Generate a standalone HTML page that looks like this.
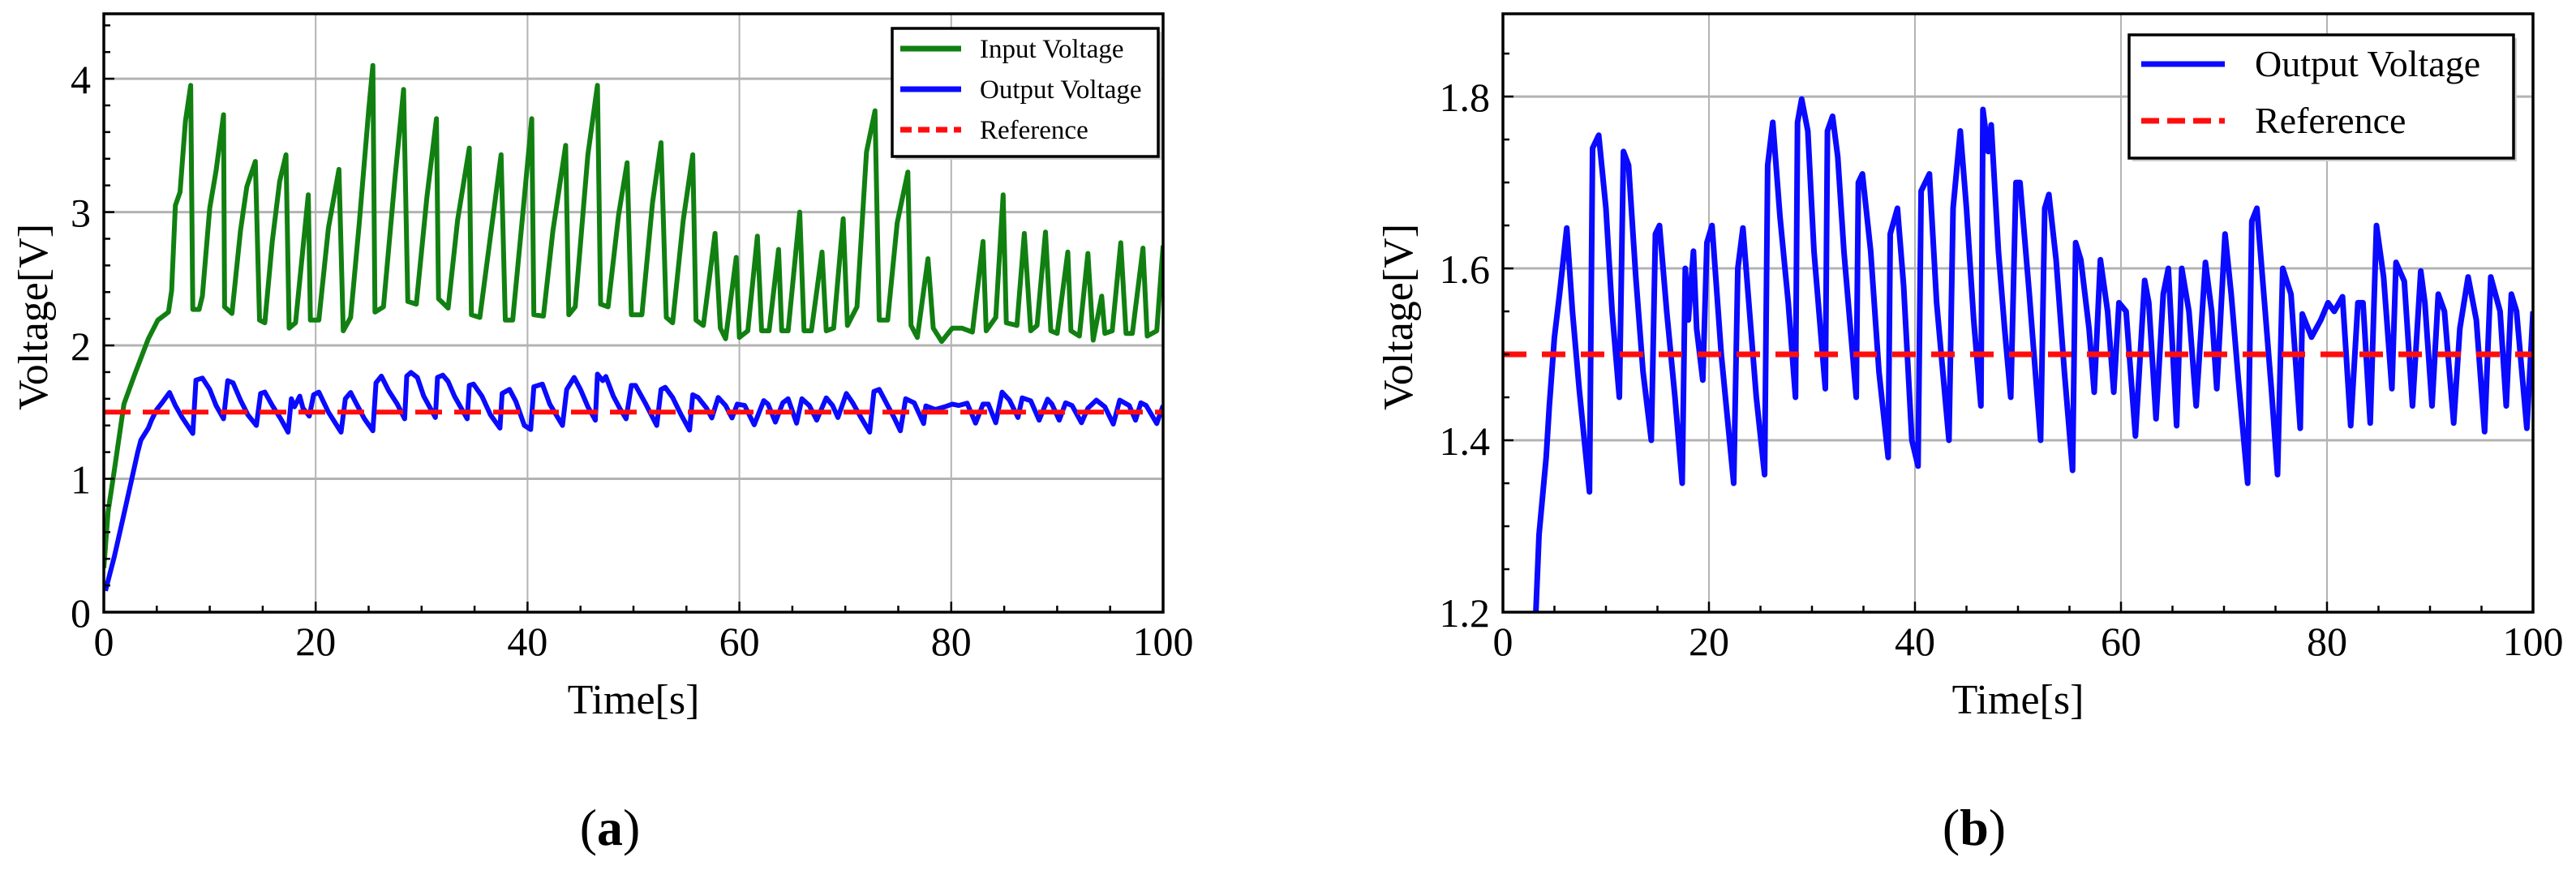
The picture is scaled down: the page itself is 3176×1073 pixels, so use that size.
<!DOCTYPE html>
<html><head><meta charset="utf-8">
<style>
html,body{margin:0;padding:0;background:#fff;width:3176px;height:1073px;overflow:hidden;}
svg{display:block;}
text{font-family:"Liberation Serif",serif;fill:#000;}
</style></head>
<body>
<svg id="fig" width="3176" height="1073" viewBox="0 0 3176 1073" xmlns="http://www.w3.org/2000/svg">
  <defs>
    <clipPath id="clipA"><rect x="128" y="17" width="1306" height="738"/></clipPath>
    <clipPath id="clipB"><rect x="1853" y="17" width="1270" height="738"/></clipPath>
  </defs>
  <g id="panelA"></g>
  <g id="panelB"></g>
</svg>
<script>
// ---- data ----
const outT = [0.15,1,1.8,2.5,3.2,3.5,4.2,4.5,5.0,5.5,6.2,6.75,7.4,8.4,8.7,9.3,10.0,10.6,11.3,11.7,12.2,12.9,13.6,14.4,14.8,15.2,15.9,16.7,17.4,17.7,18.0,18.5,18.8,19.4,19.8,20.3,21.2,22.4,22.8,23.3,23.8,24.6,25.4,25.7,26.2,26.9,27.7,28.4,28.6,29.0,29.6,30.2,31.3,31.5,32.0,32.5,33.1,34.3,34.5,34.9,35.7,36.5,37.4,37.6,38.3,38.9,39.7,40.3,40.6,41.4,42.1,43.3,43.7,44.4,45.0,45.7,46.4,46.6,47.1,47.4,48.1,48.7,49.3,49.8,50.2,51.1,52.2,52.6,53.0,53.7,54.5,55.3,55.6,56.1,56.9,57.4,58.0,58.7,59.3,59.8,60.5,61.4,62.3,62.7,63.4,64.1,64.6,65.4,65.9,66.6,67.3,68.2,68.8,69.3,70.1,70.7,71.4,72.3,72.7,73.2,74.0,74.6,75.2,75.7,76.5,77.4,77.6,78.5,79.4,80.1,80.7,81.5,82.3,83.0,83.5,84.2,84.8,85.5,86.3,86.7,87.5,88.3,89.1,89.5,90.2,90.8,91.4,92.3,92.9,93.7,94.5,95.3,95.9,96.8,97.4,97.9,98.4,99.4,100];
const outV = [0.16,0.42,0.7,0.95,1.2,1.29,1.38,1.44,1.52,1.57,1.647,1.55,1.46,1.34,1.74,1.755,1.67,1.55,1.45,1.736,1.72,1.59,1.48,1.40,1.64,1.65,1.55,1.45,1.35,1.60,1.54,1.62,1.53,1.47,1.63,1.65,1.50,1.35,1.60,1.647,1.57,1.45,1.36,1.72,1.77,1.66,1.56,1.45,1.77,1.797,1.76,1.62,1.46,1.76,1.777,1.73,1.62,1.45,1.70,1.71,1.62,1.48,1.38,1.64,1.67,1.58,1.40,1.37,1.69,1.71,1.56,1.40,1.67,1.76,1.67,1.54,1.44,1.785,1.736,1.767,1.62,1.53,1.45,1.70,1.70,1.57,1.40,1.67,1.686,1.61,1.48,1.365,1.63,1.61,1.53,1.456,1.61,1.55,1.456,1.56,1.55,1.405,1.586,1.56,1.425,1.57,1.60,1.417,1.60,1.55,1.44,1.607,1.55,1.46,1.64,1.57,1.47,1.35,1.655,1.67,1.55,1.46,1.36,1.60,1.57,1.414,1.547,1.52,1.54,1.56,1.55,1.567,1.417,1.56,1.56,1.42,1.65,1.59,1.46,1.607,1.585,1.44,1.597,1.56,1.44,1.57,1.55,1.42,1.53,1.59,1.54,1.41,1.59,1.55,1.44,1.57,1.55,1.414,1.55];
const inT = [0,0.4,1.0,1.9,2.9,4.2,5.1,6.1,6.4,6.75,7.2,7.7,8.2,8.4,9.0,9.3,10.0,10.6,11.3,11.4,12.1,12.9,13.5,14.3,14.7,15.2,15.9,16.6,17.2,17.5,18.1,19.3,19.5,20.3,21.2,22.2,22.6,23.3,24.1,25.0,25.4,25.6,26.4,27.5,28.3,28.7,29.5,30.5,31.4,31.6,32.5,33.4,34.5,34.7,35.5,36.7,37.5,37.9,38.6,39.4,40.4,40.6,41.5,42.4,43.6,43.9,44.5,45.7,46.6,46.9,47.6,48.6,49.4,49.8,50.8,51.8,52.6,53.1,53.7,54.7,55.6,55.9,56.6,57.7,58.2,58.7,59.7,60.0,60.8,61.7,62.1,62.8,63.7,64.0,64.6,65.7,66.1,66.8,67.8,68.2,68.9,69.8,70.2,71.1,72.0,72.8,73.2,74.0,74.9,75.9,76.2,76.8,77.8,78.3,79.1,80.1,81.0,82.0,83.0,83.3,84.2,84.9,85.2,86.2,86.9,87.5,88.1,88.9,89.4,90.0,91.0,91.3,92.1,92.9,93.4,94.2,94.5,95.2,96.0,96.5,97.1,98.1,98.5,99.4,100];
const inV = [0.33,0.75,1.07,1.56,1.78,2.05,2.19,2.25,2.41,3.05,3.15,3.68,3.95,2.27,2.27,2.37,3.03,3.31,3.73,2.29,2.24,2.86,3.19,3.38,2.19,2.17,2.78,3.23,3.43,2.13,2.17,3.13,2.19,2.19,2.88,3.32,2.11,2.21,2.90,3.76,4.10,2.25,2.29,3.27,3.92,2.33,2.31,3.11,3.70,2.35,2.28,2.94,3.48,2.23,2.21,2.94,3.43,2.19,2.19,2.86,3.70,2.23,2.22,2.86,3.50,2.23,2.29,3.43,3.95,2.31,2.29,2.98,3.37,2.23,2.23,3.07,3.52,2.21,2.17,2.94,3.43,2.19,2.15,2.84,2.13,2.05,2.66,2.06,2.11,2.82,2.11,2.11,2.72,2.11,2.11,3.0,2.11,2.11,2.70,2.11,2.13,2.95,2.15,2.29,3.45,3.76,2.19,2.19,2.92,3.30,2.15,2.06,2.65,2.13,2.03,2.13,2.13,2.10,2.78,2.11,2.21,3.13,2.17,2.15,2.84,2.11,2.15,2.85,2.11,2.09,2.70,2.11,2.07,2.69,2.04,2.37,2.09,2.11,2.77,2.09,2.09,2.73,2.07,2.11,2.75];
const refValue = [1.5];
const xTicks = [0,20,40,60,80,100];
const yTicksA = [0,1,2,3,4];
const yTicksB = [1.2,1.4,1.6,1.8];
const yTickLabelsB = ["1.2","1.4","1.6","1.8"];

const NS = "http://www.w3.org/2000/svg";
function mk(tag, attrs, parent){
  const e = document.createElementNS(NS, tag);
  for (const k in attrs) e.setAttribute(k, attrs[k]);
  parent.appendChild(e);
  return e;
}
function pathFrom(ts, vs, sx, sy){
  let d = "";
  for (let i=0;i<ts.length;i++){ d += (i?"L":"M") + sx(ts[i]).toFixed(1) + "," + sy(vs[i]).toFixed(1); }
  return d;
}

function panel(cfg){
  const g = cfg.g;
  const sx = t => cfg.x0 + (t - 0) / 100 * (cfg.x1 - cfg.x0);
  const sy = v => cfg.yb - (v - cfg.vmin) / (cfg.vtop - cfg.vmin) * (cfg.yb - cfg.yt);
  const grid = mk("g", {}, g);
  
  
  xTicks.slice(1, -1).forEach(t => {
    const l = mk("line", {x1:sx(t), x2:sx(t), y1:cfg.yt, y2:cfg.yb, stroke:"#b3b3b3", "stroke-width":2}, grid);
    
    
  });
  cfg.yTicks.forEach(v => {
    if (v <= cfg.vmin) return;
    const l = mk("line", {x1:cfg.x0, x2:cfg.x1, y1:sy(v), y2:sy(v), stroke:"#b3b3b3", "stroke-width":3}, grid);
    
    
  });
  const series = mk("g", {"clip-path":"url(#"+cfg.clip+")"}, g);
  
  
  if (cfg.showInput){
    const p = mk("path", {d:pathFrom(inT, inV, sx, sy), fill:"none", stroke:"#118011", "stroke-width":6, "stroke-linejoin":"round"}, series);
    
    
  }
  const po = mk("path", {d:pathFrom(outT, outV, sx, sy), fill:"none", stroke:"#0a0aff", "stroke-width":cfg.outW, "stroke-linejoin":"round"}, series);
  
  
  const pr = mk("line", {x1:cfg.x0, x2:cfg.x1, y1:sy(refValue[0]), y2:sy(refValue[0]), stroke:"#ff0d0d", "stroke-width":cfg.refW, "stroke-dasharray":cfg.dash}, series);
  
  
  const tk = mk("g", {stroke:"#000", "stroke-width":2.5}, g);
  
  
  for (let t=0; t<=100; t+=5){
    const major = t % 20 === 0;
    mk("line", {x1:sx(t), x2:sx(t), y1:cfg.yb, y2:cfg.yb-(major?13:8)}, tk);
  }
  for (let v=cfg.vmin; v<=cfg.vtop+1e-9; v+=cfg.minorY){
    const vr = Math.round(v/cfg.minorY)*cfg.minorY;
    const major = cfg.yTicks.some(m => Math.abs(m-vr)<1e-6);
    mk("line", {x1:cfg.x0, x2:cfg.x0+(major?13:8), y1:sy(vr), y2:sy(vr)}, tk);
  }
  const fr = mk("rect", {x:cfg.x0, y:cfg.yt, width:cfg.x1-cfg.x0, height:cfg.yb-cfg.yt, fill:"none", stroke:"#000", "stroke-width":3.5}, g);
  
  
  xTicks.forEach(t => {
    const tx = mk("text", {x:sx(t), y:808, "font-size":50, "text-anchor":"middle"}, g);
    tx.textContent = String(t);
    
    
  });
  cfg.yTicks.forEach((v,i) => {
    const tx = mk("text", {x:cfg.x0-16, y:sy(v)+18, "font-size":50, "text-anchor":"end"}, g);
    tx.textContent = cfg.yLabels[i];
    
    
  });
  const xt = mk("text", {x:(cfg.x0+cfg.x1)/2, y:880, "font-size":52, "text-anchor":"middle"}, g);
  xt.textContent = "Time[s]";
  
  
  const yt = mk("text", {x:0, y:0, "font-size":52, "text-anchor":"middle", transform:"translate("+(cfg.ytx)+",391) rotate(-90)"}, g);
  yt.textContent = "Voltage[V]";
  
  
  const cap = mk("text", {x:cfg.capX, y:1042, "font-size":64, "text-anchor":"middle"}, g);
  cap.innerHTML = '(<tspan font-weight="bold">' + cfg.cap + '</tspan>)';
  
  
  const lg = mk("g", {}, g);
  
  
  const L = cfg.legend;
  mk("rect", {x:L.x+4, y:L.y+4, width:L.w, height:L.h, fill:"#ccc"}, lg);
  mk("rect", {x:L.x, y:L.y, width:L.w, height:L.h, fill:"#fff", stroke:"#000", "stroke-width":3.5}, lg);
  L.items.forEach(it => {
    const e = mk("g", {}, lg);
    
    
    mk("line", {x1:L.lx1, x2:L.lx2, y1:it.y, y2:it.y, stroke:it.c, "stroke-width":L.lw, "stroke-dasharray":it.dash||"none"}, e);
    const t = mk("text", {x:L.tx, y:it.y+L.fs*0.33, "font-size":L.fs}, e);
    t.textContent = it.label;
  });
}

panel({g:document.getElementById("panelA"), clip:"clipA", x0:128, x1:1434, yt:17, yb:755, vmin:0, vtop:4.487,
  yTicks:yTicksA, yLabels:yTicksA.map(String), minorY:0.2, showInput:true, outW:6, refW:6, dash:"33 15",
  ytx:58, capX:752, cap:"a",
  legend:{x:1100, y:35, w:328, h:158, lx1:1110, lx2:1185, lw:7, tx:1208, fs:33,
    items:[{y:60,c:"#118011",label:"Input Voltage"},{y:110,c:"#0a0aff",label:"Output Voltage"},{y:160,c:"#ff0d0d",label:"Reference",dash:"14 8"}]}});
panel({g:document.getElementById("panelB"), clip:"clipB", x0:1853, x1:3123, yt:17, yb:755, vmin:1.2, vtop:1.8963,
  yTicks:yTicksB, yLabels:yTickLabelsB, minorY:0.05, showInput:false, outW:7, refW:7, dash:"29 19",
  ytx:1741, capX:2434, cap:"b",
  legend:{x:2625, y:43, w:474, h:152, lx1:2640, lx2:2743, lw:7, tx:2780, fs:46,
    items:[{y:79,c:"#0a0aff",label:"Output Voltage"},{y:149,c:"#ff0d0d",label:"Reference",dash:"22 10"}]}});
</script>
</body></html>
